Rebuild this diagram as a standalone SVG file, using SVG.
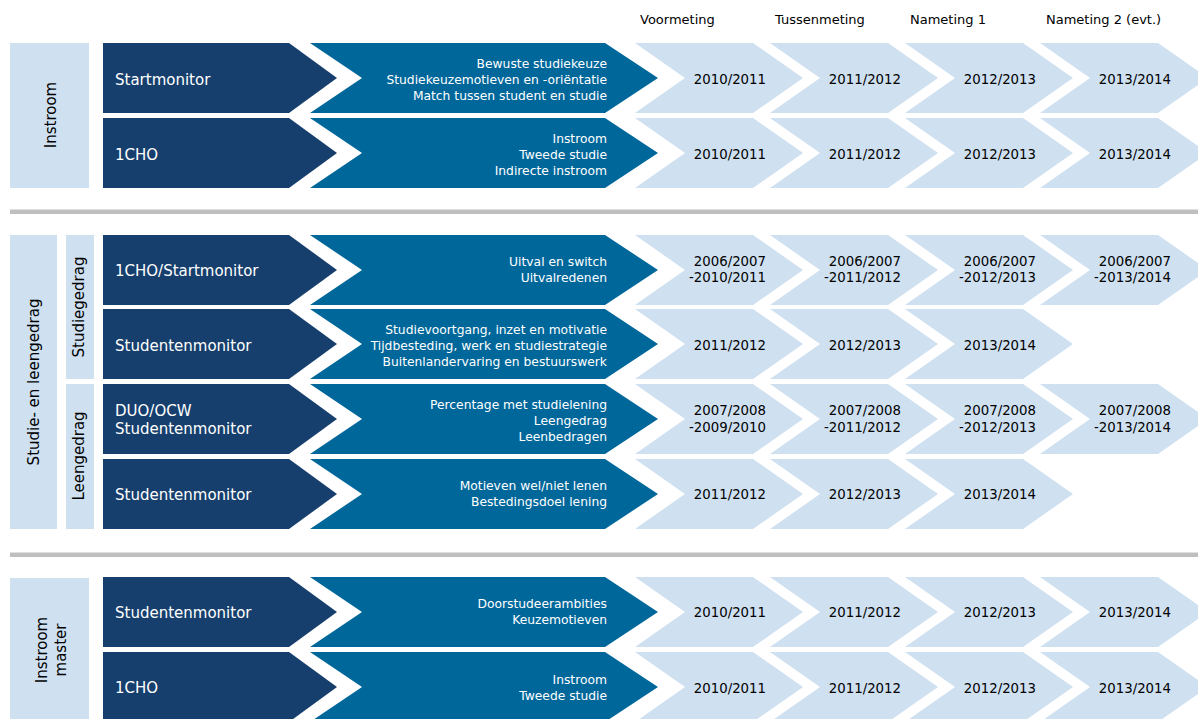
<svg xmlns="http://www.w3.org/2000/svg" xmlns:xlink="http://www.w3.org/1999/xlink" width="1198" height="719" viewBox="0 0 1198 719">
<style>
text{font-family:"DejaVu Sans",Verdana,sans-serif}
.hd{font-size:13px;fill:#000}
.side{fill:#cfe0f1}
.sl{font-size:15px;fill:#000;text-anchor:middle}
.dl{font-size:15px;fill:#fff}
.bl{font-size:12.3px;fill:#fff;text-anchor:end}
.yr{font-size:13.3px;fill:#000;text-anchor:end}
.sep{fill:#bfbfbf}
</style>
<defs>
<path id="dark" d="M0,0 H186 L234,35 L186,70 H0 Z" fill="#173f6d"/>
<path id="blue" d="M0,0 H295 L348,35 L295,70 H0 L52,35 Z" fill="#00679b"/>
<path id="light" d="M0,0 H118 L168,35 L118,70 H0 L50,35 Z" fill="#cfe0f1"/>
</defs>
<rect width="1198" height="719" fill="#fff"/>
<g id="header">
<text class="hd" x="640" y="24">Voormeting</text>
<text class="hd" x="775" y="24">Tussenmeting</text>
<text class="hd" x="910" y="24">Nameting 1</text>
<text class="hd" x="1046" y="24">Nameting 2 (evt.)</text>
</g>
<g id="separators">
<rect class="sep" x="10" y="209.5" width="1188" height="4.5"/>
<rect class="sep" x="10" y="552.5" width="1188" height="4.5"/>
</g>
<g id="side-instroom">
<rect class="side" x="10" y="43" width="79" height="145"/>
<text class="sl" transform="translate(56,115) rotate(-90)">Instroom</text>
</g>
<g id="side-studie-leengedrag">
<rect class="side" x="10" y="235" width="47" height="294"/>
<text class="sl" transform="translate(38.5,382) rotate(-90)">Studie- en leengedrag</text>
</g>
<g id="side-studiegedrag">
<rect class="side" x="66" y="235" width="28" height="144"/>
<text class="sl" transform="translate(84,307) rotate(-90)">Studiegedrag</text>
</g>
<g id="side-leengedrag">
<rect class="side" x="66" y="384" width="28" height="145"/>
<text class="sl" transform="translate(84,456) rotate(-90)">Leengedrag</text>
</g>
<g id="side-instroom-master">
<rect class="side" x="10" y="578" width="79" height="141"/>
<text class="sl" transform="translate(47,650) rotate(-90)">Instroom</text>
<text class="sl" transform="translate(66,650) rotate(-90)">master</text>
</g>

<g id="row-startmonitor">
<use xlink:href="#dark" x="103" y="43"/>
<use xlink:href="#blue" x="310" y="43"/>
<use xlink:href="#light" x="635" y="43"/>
<use xlink:href="#light" x="770" y="43"/>
<use xlink:href="#light" x="905" y="43"/>
<use xlink:href="#light" x="1040" y="43"/>
<text class="dl" x="115" y="84.5">Startmonitor</text>
<text class="bl" x="607" y="67.5">Bewuste studiekeuze</text>
<text class="bl" x="607" y="83.5">Studiekeuzemotieven en -oriëntatie</text>
<text class="bl" x="607" y="99.5">Match tussen student en studie</text>
<text class="yr" x="766" y="83.8">2010/2011</text>
<text class="yr" x="901" y="83.8">2011/2012</text>
<text class="yr" x="1036" y="83.8">2012/2013</text>
<text class="yr" x="1171" y="83.8">2013/2014</text>
</g>
<g id="row-1cho">
<use xlink:href="#dark" x="103" y="118"/>
<use xlink:href="#blue" x="310" y="118"/>
<use xlink:href="#light" x="635" y="118"/>
<use xlink:href="#light" x="770" y="118"/>
<use xlink:href="#light" x="905" y="118"/>
<use xlink:href="#light" x="1040" y="118"/>
<text class="dl" x="115" y="159.5">1CHO</text>
<text class="bl" x="607" y="142.5">Instroom</text>
<text class="bl" x="607" y="158.5">Tweede studie</text>
<text class="bl" x="607" y="174.5">Indirecte instroom</text>
<text class="yr" x="766" y="158.8">2010/2011</text>
<text class="yr" x="901" y="158.8">2011/2012</text>
<text class="yr" x="1036" y="158.8">2012/2013</text>
<text class="yr" x="1171" y="158.8">2013/2014</text>
</g>

<g id="row-1cho-startmonitor">
<use xlink:href="#dark" x="103" y="235"/>
<use xlink:href="#blue" x="310" y="235"/>
<use xlink:href="#light" x="635" y="235"/>
<use xlink:href="#light" x="770" y="235"/>
<use xlink:href="#light" x="905" y="235"/>
<use xlink:href="#light" x="1040" y="235"/>
<text class="dl" x="115" y="275.5">1CHO/Startmonitor</text>
<text class="bl" x="607" y="265.5">Uitval en switch</text>
<text class="bl" x="607" y="282">Uitvalredenen</text>
<text class="yr" x="766" y="265.8">2006/2007</text>
<text class="yr" x="766" y="282.3">-2010/2011</text>
<text class="yr" x="901" y="265.8">2006/2007</text>
<text class="yr" x="901" y="282.3">-2011/2012</text>
<text class="yr" x="1036" y="265.8">2006/2007</text>
<text class="yr" x="1036" y="282.3">-2012/2013</text>
<text class="yr" x="1171" y="265.8">2006/2007</text>
<text class="yr" x="1171" y="282.3">-2013/2014</text>
</g>
<g id="row-studentenmonitor-studie">
<use xlink:href="#dark" x="103" y="309"/>
<use xlink:href="#blue" x="310" y="309"/>
<use xlink:href="#light" x="635" y="309"/>
<use xlink:href="#light" x="770" y="309"/>
<use xlink:href="#light" x="905" y="309"/>
<text class="dl" x="115" y="350.5">Studentenmonitor</text>
<text class="bl" x="607" y="333.5">Studievoortgang, inzet en motivatie</text>
<text class="bl" x="607" y="349.5">Tijdbesteding, werk en studiestrategie</text>
<text class="bl" x="607" y="365.5">Buitenlandervaring en bestuurswerk</text>
<text class="yr" x="766" y="349.8">2011/2012</text>
<text class="yr" x="901" y="349.8">2012/2013</text>
<text class="yr" x="1036" y="349.8">2013/2014</text>
</g>
<g id="row-duo-ocw">
<use xlink:href="#dark" x="103" y="384"/>
<use xlink:href="#blue" x="310" y="384"/>
<use xlink:href="#light" x="635" y="384"/>
<use xlink:href="#light" x="770" y="384"/>
<use xlink:href="#light" x="905" y="384"/>
<use xlink:href="#light" x="1040" y="384"/>
<text class="dl" x="115" y="416">DUO/OCW</text>
<text class="dl" x="115" y="434">Studentenmonitor</text>
<text class="bl" x="607" y="408.5">Percentage met studielening</text>
<text class="bl" x="607" y="424.5">Leengedrag</text>
<text class="bl" x="607" y="440.5">Leenbedragen</text>
<text class="yr" x="766" y="415">2007/2008</text>
<text class="yr" x="766" y="431.5">-2009/2010</text>
<text class="yr" x="901" y="415">2007/2008</text>
<text class="yr" x="901" y="431.5">-2011/2012</text>
<text class="yr" x="1036" y="415">2007/2008</text>
<text class="yr" x="1036" y="431.5">-2012/2013</text>
<text class="yr" x="1171" y="415">2007/2008</text>
<text class="yr" x="1171" y="431.5">-2013/2014</text>
</g>
<g id="row-studentenmonitor-leen">
<use xlink:href="#dark" x="103" y="459"/>
<use xlink:href="#blue" x="310" y="459"/>
<use xlink:href="#light" x="635" y="459"/>
<use xlink:href="#light" x="770" y="459"/>
<use xlink:href="#light" x="905" y="459"/>
<text class="dl" x="115" y="499.5">Studentenmonitor</text>
<text class="bl" x="607" y="490">Motieven wel/niet lenen</text>
<text class="bl" x="607" y="506">Bestedingsdoel lening</text>
<text class="yr" x="766" y="498.8">2011/2012</text>
<text class="yr" x="901" y="498.8">2012/2013</text>
<text class="yr" x="1036" y="498.8">2013/2014</text>
</g>

<g id="row-studentenmonitor-master">
<use xlink:href="#dark" x="103" y="577"/>
<use xlink:href="#blue" x="310" y="577"/>
<use xlink:href="#light" x="635" y="577"/>
<use xlink:href="#light" x="770" y="577"/>
<use xlink:href="#light" x="905" y="577"/>
<use xlink:href="#light" x="1040" y="577"/>
<text class="dl" x="115" y="617.5">Studentenmonitor</text>
<text class="bl" x="607" y="608">Doorstudeerambities</text>
<text class="bl" x="607" y="624">Keuzemotieven</text>
<text class="yr" x="766" y="616.8">2010/2011</text>
<text class="yr" x="901" y="616.8">2011/2012</text>
<text class="yr" x="1036" y="616.8">2012/2013</text>
<text class="yr" x="1171" y="616.8">2013/2014</text>
</g>
<g id="row-1cho-master">
<use xlink:href="#dark" x="103" y="652"/>
<use xlink:href="#blue" x="310" y="652"/>
<use xlink:href="#light" x="635" y="652"/>
<use xlink:href="#light" x="770" y="652"/>
<use xlink:href="#light" x="905" y="652"/>
<use xlink:href="#light" x="1040" y="652"/>
<text class="dl" x="115" y="693">1CHO</text>
<text class="bl" x="607" y="684">Instroom</text>
<text class="bl" x="607" y="700">Tweede studie</text>
<text class="yr" x="766" y="692.8">2010/2011</text>
<text class="yr" x="901" y="692.8">2011/2012</text>
<text class="yr" x="1036" y="692.8">2012/2013</text>
<text class="yr" x="1171" y="692.8">2013/2014</text>
</g>
<g id="connectors"/>
</svg>
